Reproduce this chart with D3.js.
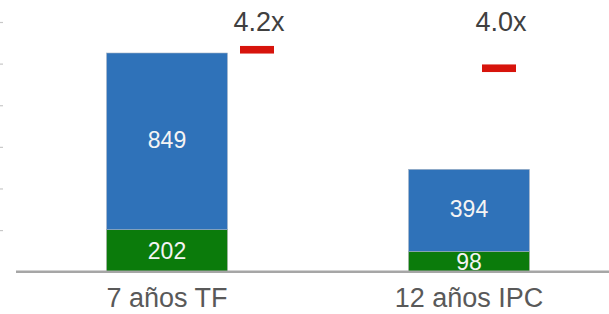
<!DOCTYPE html>
<html>
<head>
<meta charset="utf-8">
<script src="https://cdn.jsdelivr.net/npm/d3@7"></script>
<style>
html,body{margin:0;padding:0;background:#fff;}
svg{display:block;font-family:"Liberation Sans",Arial,sans-serif;}
</style>
</head>
<body>
<svg id="chart" width="609" height="314"></svg>
<script>
const categories = ["7 años TF", "12 años IPC"];
const baseValues = [202, 98];      // green segment
const extraValues = [849, 394];    // blue segment
const multiples = [4.2, 4.0];
const multipleLabels = ["4.2x", "4.0x"];
const yTicks = [200, 400, 600, 800, 1000, 1200];

const svg = d3.select("#chart");

const x = d3.scaleBand().domain(categories).range([16, 620]).paddingInner(0.6).paddingOuter(0.3);
const y = d3.scaleLinear().domain([0, 1200]).range([271.7, 22]);
const y2 = d3.scaleLinear().domain([1.8, 4.5]).range([271.7, 22]);
const xm = d3.scalePoint().domain(categories).range([257, 499]);

// left tick marks (no labels)
const axis = d3.axisLeft(y).tickValues(yTicks).tickSize(3).tickFormat("");
const ag = svg.append("g").attr("transform", "translate(3,0)").call(axis);
ag.select(".domain").remove();
ag.selectAll(".tick line").attr("stroke", "#c8c8c8").attr("stroke-width", 1.2);

const rows = categories.map((c, i) => ({c, base: baseValues[i], extra: extraValues[i], m: multiples[i], ml: multipleLabels[i]}));

// green segments
svg.selectAll("rect.base").data(rows).join("rect")
  .attr("class", "base")
  .attr("x", d => x(d.c)).attr("width", x.bandwidth())
  .attr("y", d => y(d.base)).attr("height", d => y(0) - y(d.base))
  .attr("fill", "#0b7b0b").attr("stroke", "#9aa79a").attr("stroke-width", 0.6);

// blue segments
svg.selectAll("rect.extra").data(rows).join("rect")
  .attr("class", "extra")
  .attr("x", d => x(d.c)).attr("width", x.bandwidth())
  .attr("y", d => y(d.base + d.extra)).attr("height", d => y(d.base) - y(d.base + d.extra))
  .attr("fill", "#2f72b9").attr("stroke", "#9fb0c4").attr("stroke-width", 0.6);

// baseline
svg.append("line")
  .attr("x1", 16).attr("x2", 609)
  .attr("y1", y(0)).attr("y2", y(0))
  .attr("stroke", "#a6a6a6").attr("stroke-width", 2.6);

// segment labels
svg.selectAll("text.vb").data(rows).join("text")
  .attr("class", "vb")
  .attr("x", d => x(d.c) + x.bandwidth() / 2)
  .attr("y", d => (y(0) + y(d.base)) / 2 + 8)
  .attr("text-anchor", "middle")
  .attr("font-size", 23).attr("fill", "#f4f4f4")
  .text(d => d.base);

svg.selectAll("text.ve").data(rows).join("text")
  .attr("class", "ve")
  .attr("x", d => x(d.c) + x.bandwidth() / 2)
  .attr("y", d => (y(d.base) + y(d.base + d.extra)) / 2 + 7)
  .attr("text-anchor", "middle")
  .attr("font-size", 23).attr("fill", "#f4f4f4")
  .text(d => d.extra);

// category labels
svg.selectAll("text.cat").data(rows).join("text")
  .attr("class", "cat")
  .attr("x", d => x(d.c) + x.bandwidth() / 2)
  .attr("y", 306.5)
  .attr("text-anchor", "middle")
  .attr("font-size", 27).attr("fill", "#595959")
  .text(d => d.c);

// multiple markers
svg.selectAll("rect.mk").data(rows).join("rect")
  .attr("class", "mk")
  .attr("x", d => xm(d.c) - 17).attr("width", 34)
  .attr("y", d => y2(d.m) - 3.8).attr("height", 7.6)
  .attr("fill", "#d7140c");

svg.selectAll("text.ml").data(rows).join("text")
  .attr("class", "ml")
  .attr("x", d => xm(d.c) + 2)
  .attr("y", 31)
  .attr("text-anchor", "middle")
  .attr("font-size", 27).attr("fill", "#404040")
  .text(d => d.ml);
</script>
</body>
</html>
